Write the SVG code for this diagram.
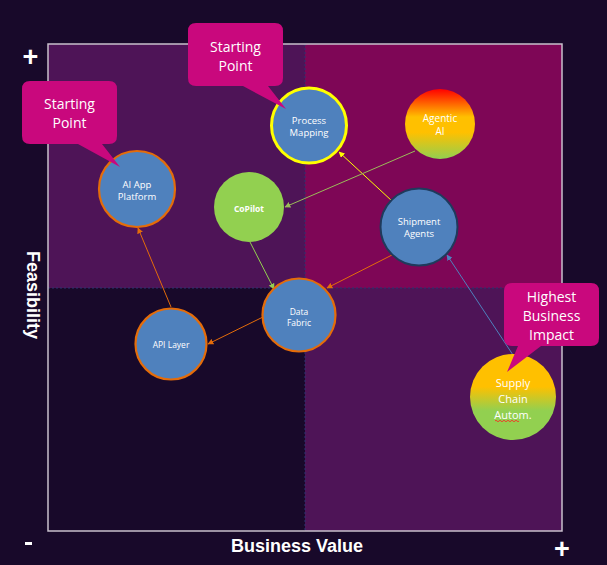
<svg xmlns="http://www.w3.org/2000/svg" width="607" height="565" viewBox="0 0 607 565">
<style>
.node-text{font-family:"Open Sans","Liberation Sans",sans-serif;fill:#ffffff;text-anchor:middle;dominant-baseline:central}
.callout-text{font-family:"Open Sans","Liberation Sans",sans-serif;fill:#ffffff;text-anchor:middle;dominant-baseline:central;font-size:14px}
.axis{font-family:"Liberation Sans",Arial,sans-serif;font-weight:bold;fill:#ffffff;font-size:18px;text-anchor:middle}
.plus{font-family:"Liberation Sans",Arial,sans-serif;font-weight:bold;fill:#ffffff;font-size:27px;text-anchor:middle}
.blue{fill:#4f81bd}
.orange-ring{stroke:#e46c0a;stroke-width:2.2}
.callout{fill:#c9087d}
.conn{fill:none;stroke-width:1}
.divider{stroke:#2a3570;stroke-width:1;stroke-dasharray:2 2}
</style>
<defs>
<linearGradient id="gAgentic" x1="0" y1="0" x2="0" y2="1">
<stop offset="0" stop-color="#ff0000"/>
<stop offset="0.4" stop-color="#ffc000"/>
<stop offset="0.62" stop-color="#ffc000"/>
<stop offset="1" stop-color="#92d050"/>
</linearGradient>
<linearGradient id="gSupply" x1="0" y1="0" x2="0" y2="1">
<stop offset="0" stop-color="#ffc000"/>
<stop offset="0.38" stop-color="#ffc000"/>
<stop offset="0.66" stop-color="#92d050"/>
<stop offset="1" stop-color="#92d050"/>
</linearGradient>
<marker id="aOrange" viewBox="0 0 10 10" refX="9" refY="5" markerWidth="6" markerHeight="6" orient="auto"><path d="M0,0 L10,5 L0,10 z" fill="#e46c0a"/></marker>
<marker id="aYellow" viewBox="0 0 10 10" refX="9" refY="5" markerWidth="6" markerHeight="6" orient="auto"><path d="M0,0 L10,5 L0,10 z" fill="#ffff00"/></marker>
<marker id="aOlive" viewBox="0 0 10 10" refX="9" refY="5" markerWidth="6" markerHeight="6" orient="auto"><path d="M0,0 L10,5 L0,10 z" fill="#9bbb59"/></marker>
<marker id="aGreen" viewBox="0 0 10 10" refX="9" refY="5" markerWidth="6" markerHeight="6" orient="auto"><path d="M0,0 L10,5 L0,10 z" fill="#92d050"/></marker>
<marker id="aBlue" viewBox="0 0 10 10" refX="9" refY="5" markerWidth="6" markerHeight="6" orient="auto"><path d="M0,0 L10,5 L0,10 z" fill="#4f81bd"/></marker>
</defs>

<rect x="0" y="0" width="607" height="565" fill="#18092a"/>

<g id="quadrants">
<rect x="48" y="44" width="257" height="244" fill="#4e1457"/>
<rect x="305" y="44" width="257" height="244" fill="#7e0656"/>
<rect x="305" y="288" width="257" height="243" fill="#4e1457"/>
<line class="divider" x1="48" y1="288" x2="562" y2="288"/>
<line class="divider" x1="305" y1="44" x2="305" y2="531"/>
<rect x="48" y="44" width="514" height="487" fill="none" stroke="#c8c0cc" stroke-width="1.5"/>
</g>

<g id="axes">
<text class="plus" x="30.5" y="66">+</text>
<text class="plus" x="562" y="558">+</text>
<rect x="25" y="542" width="7" height="3" fill="#ffffff"/>
<text class="axis" x="297" y="552">Business Value</text>
<text class="axis" transform="translate(27,295) rotate(90)" x="0" y="0">Feasibility</text>
</g>

<g id="connectors">
<line class="conn" x1="392" y1="201" x2="339" y2="152" stroke="#ffff00" marker-end="url(#aYellow)"/>
<line class="conn" x1="415" y1="151" x2="285" y2="207" stroke="#9bbb59" marker-end="url(#aOlive)"/>
<line class="conn" x1="250" y1="242" x2="274" y2="289" stroke="#92d050" marker-end="url(#aGreen)"/>
<line class="conn" x1="392" y1="255" x2="327" y2="288" stroke="#e46c0a" marker-end="url(#aOrange)"/>
<line class="conn" x1="263" y1="317" x2="208" y2="344" stroke="#e46c0a" marker-end="url(#aOrange)"/>
<line class="conn" x1="171" y1="307" x2="138" y2="228" stroke="#e46c0a" marker-end="url(#aOrange)"/>
<line class="conn" x1="513" y1="355" x2="447" y2="255" stroke="#4f81bd" marker-end="url(#aBlue)"/>
</g>

<g id="ai-app-platform">
<circle class="blue orange-ring" cx="137" cy="189" r="38"/>
<text class="node-text" x="137" y="184" font-size="9.5">AI App</text>
<text class="node-text" x="137" y="196" font-size="9.5">Platform</text>
</g>

<g id="process-mapping">
<circle class="blue" cx="309" cy="125.5" r="37.5" stroke="#ffff00" stroke-width="3"/>
<text class="node-text" x="309" y="120" font-size="9.5">Process</text>
<text class="node-text" x="309" y="132" font-size="9.5">Mapping</text>
</g>

<g id="agentic-ai">
<circle cx="440" cy="124" r="35" fill="url(#gAgentic)"/>
<text class="node-text" x="440" y="118" font-size="10">Agentic</text>
<text class="node-text" x="440" y="131" font-size="10">AI</text>
</g>

<g id="copilot">
<circle cx="249" cy="207" r="35" fill="#92d050"/>
<text class="node-text" x="249" y="208" font-size="8.5" font-weight="bold">CoPilot</text>
</g>

<g id="shipment-agents">
<circle class="blue" cx="419" cy="227" r="38.5" stroke="#1f3a5c" stroke-width="2"/>
<text class="node-text" x="419" y="221" font-size="9.5">Shipment</text>
<text class="node-text" x="419" y="233" font-size="9.5">Agents</text>
</g>

<g id="data-fabric">
<circle class="blue orange-ring" cx="299" cy="315" r="36.5"/>
<text class="node-text" x="299" y="311" font-size="8.5">Data</text>
<text class="node-text" x="299" y="322" font-size="8.5">Fabric</text>
</g>

<g id="api-layer">
<circle class="blue orange-ring" cx="171" cy="344" r="35.5"/>
<text class="node-text" x="171" y="344" font-size="8.5">API Layer</text>
</g>

<g id="supply-chain-autom">
<circle cx="513" cy="397" r="43" fill="url(#gSupply)"/>
<text class="node-text" x="513" y="382" font-size="11">Supply</text>
<text class="node-text" x="513" y="398" font-size="11">Chain</text>
<text class="node-text" x="513" y="414" font-size="11">Autom.</text>
<path d="M495,421 q1,-1.5 2,0 t2,0 t2,0 t2,0 t2,0 t2,0 t2,0 t2,0 t2,0 t2,0 t2,0 t2,0" fill="none" stroke="#ff2020" stroke-width="0.8"/>
</g>

<g id="callout-starting-point-1">
<path class="callout" d="M30,81 H109 Q117,81 117,89 V136 Q117,144 109,144 H102 L120,167 L78,144 H30 Q22,144 22,136 V89 Q22,81 30,81 Z"/>
<text class="callout-text" x="69.5" y="103">Starting</text>
<text class="callout-text" x="69.5" y="122">Point</text>
</g>

<g id="callout-starting-point-2">
<path class="callout" d="M196,23 H275 Q283,23 283,31 V78 Q283,86 275,86 H268 L286,109 L243,86 H196 Q188,86 188,78 V31 Q188,23 196,23 Z"/>
<text class="callout-text" x="235.5" y="46">Starting</text>
<text class="callout-text" x="235.5" y="65">Point</text>
</g>

<g id="callout-highest-impact">
<path class="callout" d="M512,283 H591 Q599,283 599,291 V338 Q599,346 591,346 H541 L507,372 L518,346 H512 Q504,346 504,338 V291 Q504,283 512,283 Z"/>
<text class="callout-text" x="551.5" y="296">Highest</text>
<text class="callout-text" x="551.5" y="315">Business</text>
<text class="callout-text" x="551.5" y="334">Impact</text>
</g>
</svg>
